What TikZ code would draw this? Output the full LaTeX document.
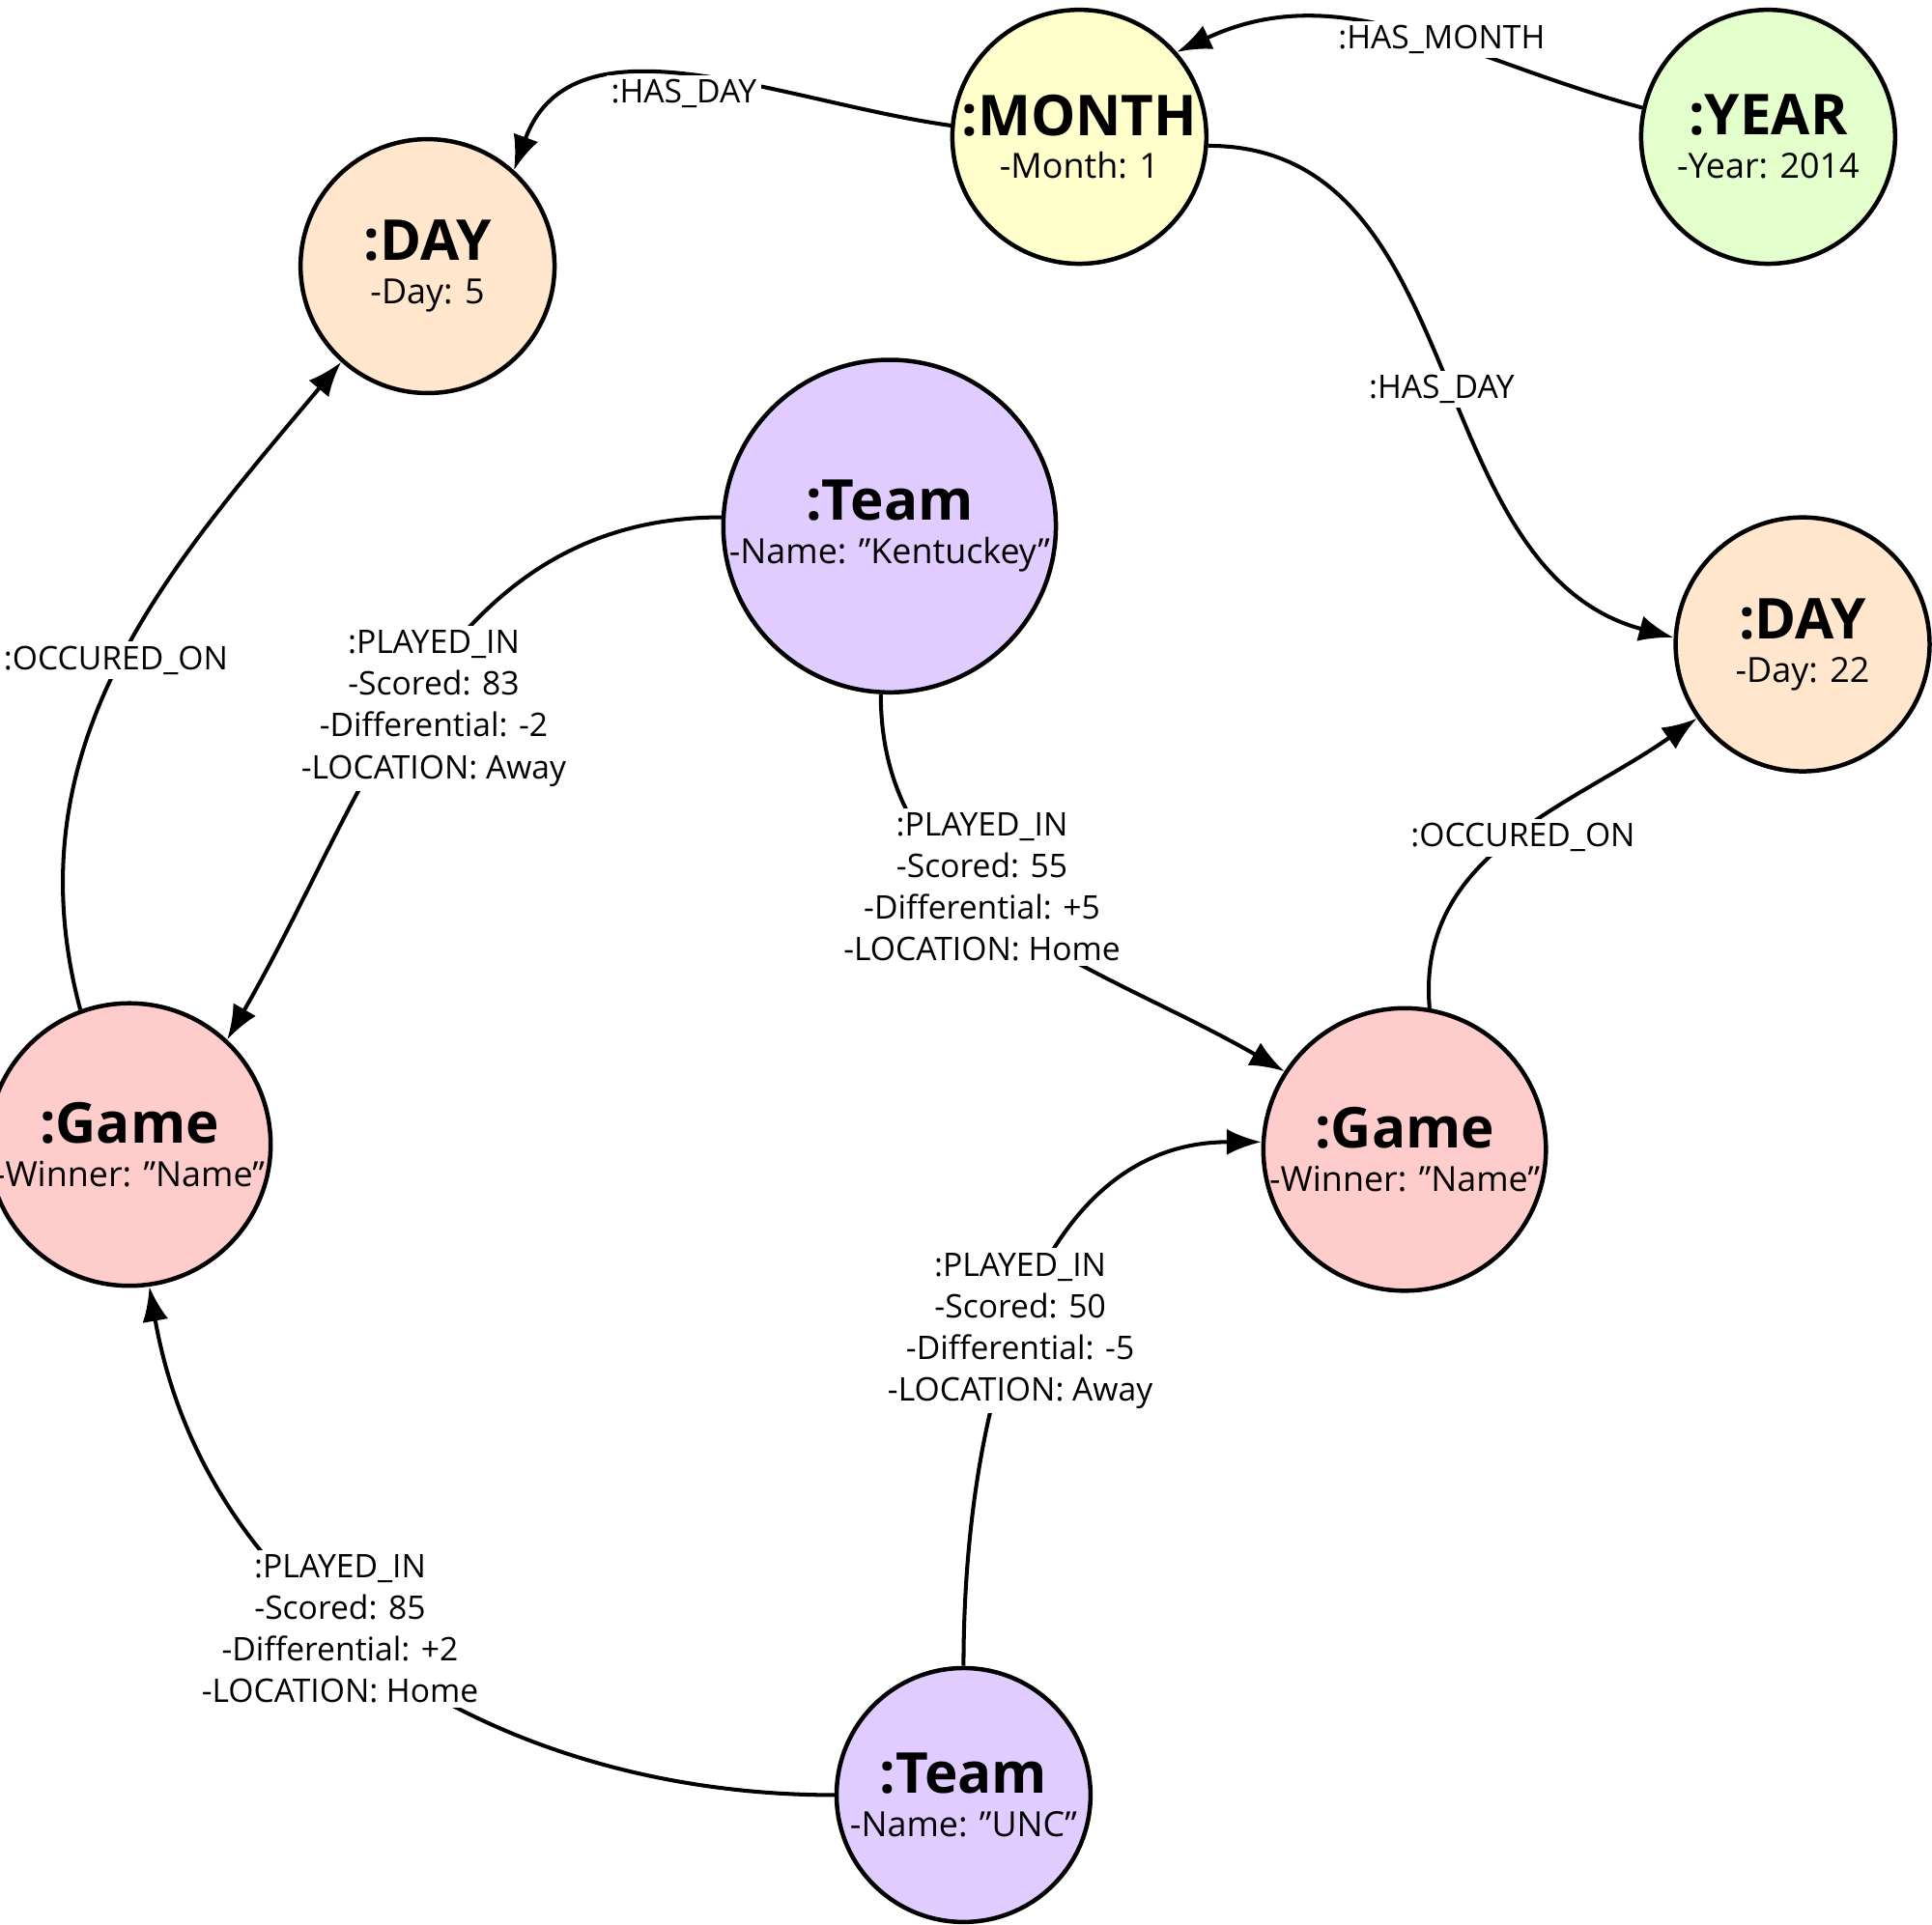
\documentclass[tikz,border=0pt]{standalone}
\usepackage{fontspec}
\setmainfont{Open Sans}
\usetikzlibrary{arrows.meta}
\definecolor{cmonth}{HTML}{FFFFCC}
\definecolor{cyear}{HTML}{E2FFCC}
\definecolor{cday}{HTML}{FFE6CC}
\definecolor{cteam}{HTML}{E1CCFF}
\definecolor{cgame}{HTML}{FFCCCC}
\begin{document}
\begin{tikzpicture}[x=0.01cm,y=-0.01cm,
  ent/.style={circle,draw,line width=1pt,minimum size=2.06cm,inner sep=0pt,align=center,font=\fontsize{8}{10}\selectfont},
  rel/.style={-{Latex[length=8pt,width=6pt]},line width=0.9pt},
  lab/.style={fill=white,inner sep=1pt,align=center,font=\fontsize{7.5}{9.6}\selectfont}]
\useasboundingbox (0,0) rectangle (1568,1562);
\newcommand{\ttl}[1]{{\fontsize{13}{15}\selectfont\bfseries #1}\\}
\node[ent,fill=cmonth] (month) at (876,111) {\ttl{:MONTH}-Month: 1};
\node[ent,fill=cyear] (year) at (1435,111) {\ttl{:YEAR}-Year: 2014};
\node[ent,fill=cday] (day5) at (347,216) {\ttl{:DAY}-Day: 5};
\node[ent,fill=cteam] (ken) at (722,427) {\ttl{:Team}-Name: "Kentuckey"};
\node[ent,fill=cday] (day22) at (1463,523) {\ttl{:DAY}-Day: 22};
\node[ent,fill=cgame] (gl) at (105,929) {\ttl{:Game}-Winner: "Name"};
\node[ent,fill=cgame] (gr) at (1140,933) {\ttl{:Game}-Winner: "Name"};
\node[ent,fill=cteam] (unc) at (782,1457) {\ttl{:Team}-Name: "UNC"};

\draw[rel] (year.167) to[out=165,in=25] (month.41);
\draw[rel] (month.175) to[out=172,in=70] (day5.48);
\draw[rel] (month.-4) to[out=0,in=165] (day22.177);
\draw[rel] (ken.177) to[out=180,in=60] (gl.47);
\draw[rel] (ken.-93) to[out=-90,in=150] (gr.147);
\draw[rel] (gl.110) to[out=105,in=-130] (day5.228);
\draw[rel] (gr.80) to[out=95,in=-145] (day22.215);
\draw[rel] (unc.180) to[out=180,in=-80] (gl.-82);
\draw[rel] (unc.90) to[out=90,in=180] (gr.177);

\node[lab] (l1) at (1170,32) {:HAS\_MONTH};
\node[lab] (l2) at (555,76) {:HAS\_DAY};
\node[lab] (l3) at (1170,316) {:HAS\_DAY};
\node[lab] (l4) at (352,575) {:PLAYED\_IN\\-Scored: 83\\-Differential: -2\\-LOCATION: Away};
\node[lab] (l5) at (797,720) {:PLAYED\_IN\\-Scored: 55\\-Differential: +5\\-LOCATION: Home};
\node[lab] (l6) at (94,536) {:OCCURED\_ON};
\node[lab] (l7) at (1236,680) {:OCCURED\_ON};
\node[lab] (l8) at (276,1322) {:PLAYED\_IN\\-Scored: 85\\-Differential: +2\\-LOCATION: Home};
\node[lab] (l9) at (828,1080) {:PLAYED\_IN\\-Scored: 50\\-Differential: -5\\-LOCATION: Away};
\end{tikzpicture}
\end{document}
